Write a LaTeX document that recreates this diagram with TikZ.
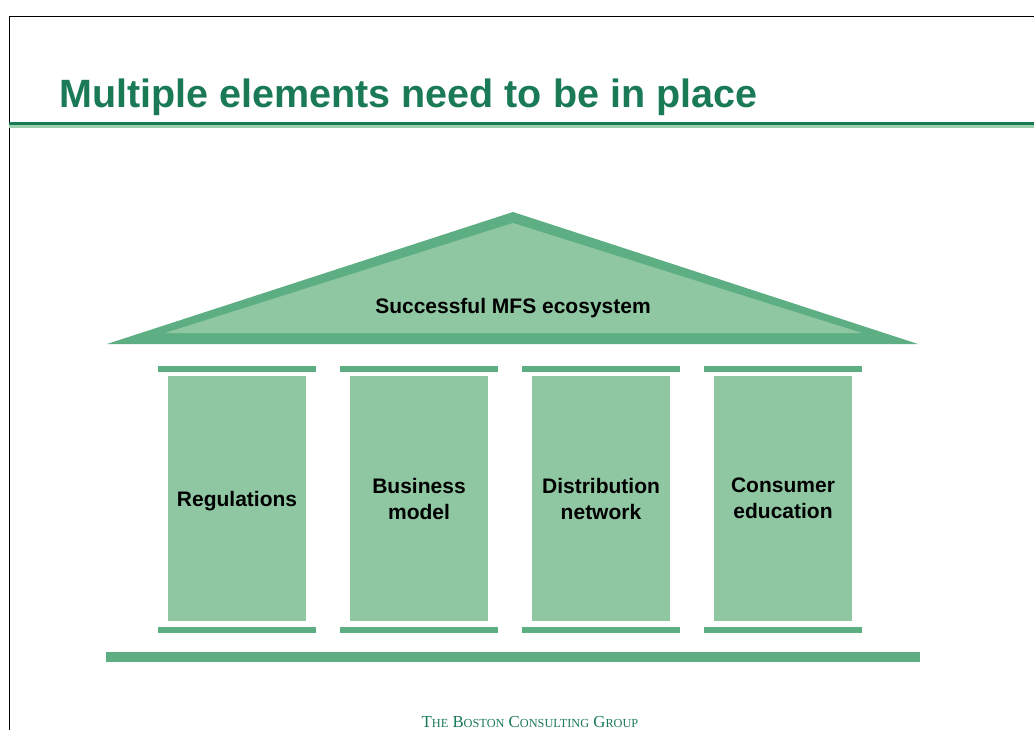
\documentclass[tikz,border=0pt]{standalone}
\usepackage{fontspec}
\setmainfont{Liberation Sans}
\newfontfamily\bcgfont{Liberation Serif}
\usetikzlibrary{positioning}
\definecolor{titlegreen}{RGB}{26,122,86}
\definecolor{roofgreen}{RGB}{93,175,131}
\definecolor{pillargreen}{RGB}{143,199,162}
\definecolor{rulegreen}{RGB}{155,207,174}
\tikzstyle{pillar} = [rectangle, minimum width=138pt, minimum height=245pt,
                      fill=pillargreen, text centered, align=center, inner sep=0pt,
                      text depth=0pt, font=\fontsize{21}{26}\selectfont\bfseries]
\tikzstyle{capbar} = [rectangle, minimum width=158pt, minimum height=6pt,
                      fill=roofgreen, inner sep=0pt]
\newcommand{\smallcap}[1]{{\fontsize{12.3}{14}\selectfont #1}}
\newcommand{\bcgname}{{\bcgfont\fontsize{16.8}{18}\selectfont
  T\smallcap{HE} B\smallcap{OSTON} C\smallcap{ONSULTING} G\smallcap{ROUP}}}

\begin{document}
\begin{tikzpicture}[x=1pt, y=-1pt, node distance=182pt]
        \useasboundingbox (0,0) rectangle (1034,730);
        
        \draw [line width=1pt] (9,730) -- (9,16.5) -- (1034,16.5);
        
        \node (Title) [anchor=base west, inner sep=0pt, text=titlegreen,
                       font=\fontsize{39.5}{44}\selectfont\bfseries] at (59,108) {Multiple elements need to be in place};
        \fill [titlegreen] (9,122) rectangle (1034,125);
        \fill [rulegreen] (9,125) rectangle (1034,128);
        
        \fill [roofgreen] (107,344) -- (513,212) -- (918,344) -- cycle;
        \fill [pillargreen] (165,333) -- (513,223) -- (862,333) -- cycle;
        \node (Roof) [anchor=base, inner sep=0pt, font=\fontsize{21}{26}\selectfont\bfseries] at (513,313) {Successful MFS ecosystem};
        
        \node (Regulations) [pillar] at (237,498.5) {Regulations};
        \node (Business) [pillar, right of = Regulations] {Business\\model};
        \node (Distribution) [pillar, right of = Business] {Distribution\\network};
        \node (Consumer) [pillar, right of = Distribution] {Consumer\\education};
        
        \foreach \p in {Regulations, Business, Distribution, Consumer} {
            \node [capbar, above=4pt of \p] {};
            \node [capbar, below=5.5pt of \p] {};
        }
        
        \fill [roofgreen] (106,652) rectangle (920,662);
        
        \node (Footer) [anchor=base, inner sep=0pt, text=titlegreen] at (530,727.5) {\bcgname};
    
    \end{tikzpicture}
\end{document}
